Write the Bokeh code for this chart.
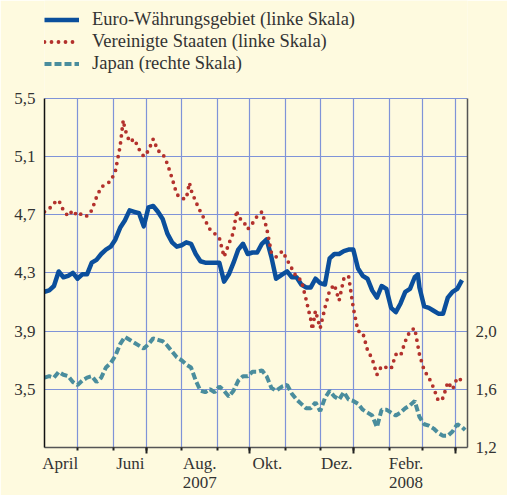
import numpy as np
from bokeh.plotting import figure
from bokeh.models import (Range1d, LinearAxis, FixedTicker, CustomJSTickFormatter,
                          Legend, LegendItem, Grid)
from bokeh.embed import file_html
from bokeh.resources import INLINE

# ---------------- data (trading-day number since 2 April 2007) ----------------
START = "2007-04-02"

tag_ez = [0, 3, 6, 9, 12, 15, 18, 21, 24, 27, 30, 33, 36, 39, 42, 45, 48, 51, 54, 57, 60, 63, 66,
          69, 72, 75, 78, 81, 84, 87, 90, 93, 96, 99, 102, 105, 108, 111, 114, 117, 120, 123, 126,
          129, 132, 135, 138, 141, 144, 147, 151, 154, 157, 160, 163, 166, 169, 172, 175, 178, 181,
          184, 187, 190, 193, 196, 199, 202, 205, 208, 211, 214, 217, 220, 223, 226, 229, 232, 235,
          237, 238, 241, 244, 247, 250, 253, 256, 259, 262, 265]
euro = [4.17, 4.18, 4.21, 4.31, 4.27, 4.28, 4.30, 4.26, 4.29, 4.29, 4.37, 4.39, 4.43, 4.46, 4.48,
        4.53, 4.61, 4.66, 4.73, 4.72, 4.71, 4.62, 4.75,
        4.76, 4.72, 4.67, 4.57, 4.51, 4.48, 4.49, 4.51, 4.50, 4.43, 4.38, 4.37, 4.37, 4.37, 4.37,
        4.24, 4.29, 4.37, 4.46, 4.50,
        4.43, 4.44, 4.44, 4.50, 4.53, 4.41, 4.26, 4.29, 4.31, 4.27, 4.27, 4.22, 4.20, 4.20, 4.26,
        4.23, 4.22, 4.40,
        4.43, 4.43, 4.45, 4.46, 4.46, 4.33, 4.28, 4.26, 4.18, 4.13, 4.21, 4.19, 4.06, 4.03, 4.09,
        4.17, 4.19, 4.27,
        4.29, 4.20, 4.07, 4.06, 4.04, 4.02, 4.02, 4.13, 4.17, 4.19, 4.25]

tag_us = [0, 3, 6, 9, 12, 15, 18, 21, 24, 27, 30, 33, 36, 39, 42, 45, 48, 50, 51, 54, 57, 60, 63,
          66, 69, 72, 75, 78, 81, 84, 87, 90, 92, 93, 96, 99, 102, 105, 108, 111, 114, 117, 120,
          122, 123, 126, 129, 132, 135, 138, 141, 144, 147, 151, 154, 157, 160, 163, 166, 169, 170,
          172, 175, 178, 181, 184, 187, 190, 193, 196, 199, 202, 205, 208, 211, 214, 217, 220, 223,
          226, 229, 232, 235, 238, 241, 244, 247, 250, 253, 256, 259, 262, 265, 267]
usa = [4.72, 4.74, 4.78, 4.80, 4.73, 4.69, 4.73, 4.69, 4.71, 4.69, 4.73, 4.82, 4.89, 4.91, 4.93,
       5.00, 5.17, 5.35, 5.29, 5.20, 5.22, 5.15, 5.10,
       5.14, 5.22, 5.14, 5.12, 5.05, 4.95, 4.84, 4.81, 4.81, 4.92, 4.87, 4.79, 4.72, 4.66, 4.60,
       4.57, 4.54, 4.41, 4.50, 4.58,
       4.73, 4.68, 4.66, 4.60, 4.64, 4.69, 4.72, 4.61, 4.44, 4.41, 4.45, 4.39, 4.33, 4.27, 4.25,
       4.12, 3.98, 3.91,
       4.04, 3.92, 4.06, 4.18, 4.22, 4.11, 4.26, 4.28, 4.06, 3.90, 3.89, 3.77, 3.71, 3.60, 3.66,
       3.65, 3.64, 3.74,
       3.73, 3.83, 3.90, 3.92, 3.74, 3.63, 3.58, 3.51, 3.42, 3.44, 3.55, 3.50, 3.58, 3.56, 3.58]

tag_jp = [0, 3, 6, 9, 12, 15, 18, 21, 24, 27, 30, 33, 36, 39, 42, 45, 48, 51, 54, 57, 60, 63, 66,
          69, 72, 75, 78, 81, 84, 87, 90, 93, 96, 99, 102, 105, 108, 111, 114, 117, 120, 123, 126,
          129, 132, 135, 138, 141, 144, 147, 151, 154, 157, 160, 163, 166, 169, 172, 175, 178, 181,
          184, 187, 190, 193, 196, 199, 202, 205, 208, 211, 214, 217, 220, 223, 226, 229, 232, 235,
          238, 241, 244, 247, 250, 253, 256, 259, 262, 265, 267]
japan = [1.68, 1.69, 1.68, 1.72, 1.70, 1.69, 1.65, 1.63, 1.66, 1.68, 1.69, 1.65, 1.68, 1.75, 1.78,
         1.83, 1.91, 1.96, 1.94, 1.92, 1.90, 1.88, 1.91,
         1.95, 1.94, 1.93, 1.90, 1.86, 1.82, 1.80, 1.77, 1.75, 1.66, 1.59, 1.58, 1.60, 1.58, 1.62,
         1.59, 1.55, 1.59, 1.66, 1.69,
         1.69, 1.72, 1.72, 1.73, 1.69, 1.61, 1.59, 1.62, 1.63, 1.57, 1.53, 1.50, 1.47, 1.47, 1.51,
         1.45, 1.54, 1.59,
         1.55, 1.53, 1.58, 1.53, 1.52, 1.50, 1.46, 1.44, 1.42, 1.34, 1.46, 1.46, 1.44, 1.42, 1.44,
         1.47, 1.49, 1.52,
         1.41, 1.36, 1.35, 1.33, 1.30, 1.28, 1.28, 1.31, 1.36, 1.34, 1.32]

month_firsts = ["2007-04-01", "2007-05-01", "2007-06-01", "2007-07-01", "2007-08-01",
                "2007-09-01", "2007-10-01", "2007-11-01", "2007-12-01", "2008-01-01",
                "2008-02-01", "2008-03-01", "2008-04-01", "2008-05-01"]
month_labels = ["April", "", "Juni", "", "Aug.\n2007", "", "Okt.", "", "Dez.", "",
                "Febr.\n2008", "", "", ""]
quarter_firsts = ["2007-07-01", "2007-10-01", "2008-01-01", "2008-04-01"]

left_ticks = [3.5, 3.9, 4.3, 4.7, 5.1, 5.5]
left_bounds = (3.1, 5.5)
right_ticks = [1.2, 1.6, 2.0]
right_bounds = (1.2, 3.6)

names = ["Euro-Währungsgebiet (linke Skala)", "Vereinigte Staaten (linke Skala)",
         "Japan (rechte Skala)"]

# ---------------- styling / layout ----------------
W, H = 507, 495
TOP_GAP = 98          # legend area above the plotting box
FRAME_H = 350         # height of the plotting box
BG = "#fefadf"
GRID = "#7f93d8"
C_EZ = "#0b4f9c"
C_US = "#b3312c"
C_JP = "#4a8d9d"
FONT = "Liberation Serif"
TXT = "#333333"

month_pos = [int(v) for v in np.busday_count(START, month_firsts)]
quarter_pos = [int(v) for v in np.busday_count(START, quarter_firsts)]
label_pos, label_txt = [], []
for i, lab in enumerate(month_labels):
    if lab:
        label_pos.append((month_pos[i] + month_pos[i + 1]) / 2)
        label_txt.append(lab)

# the frame reaches up to the top of the canvas so the legend can sit inside it
per_px = (left_bounds[1] - left_bounds[0]) / FRAME_H
extra = per_px * TOP_GAP

p = figure(width=W, height=H, output_backend="svg", toolbar_location=None,
           x_range=Range1d(0, 268.5),
           y_range=Range1d(left_bounds[0], left_bounds[1] + extra),
           x_axis_location=None, y_axis_location=None,
           background_fill_color=BG, border_fill_color=BG, outline_line_color=None,
           min_border_left=44, min_border_right=40, min_border_top=0, min_border_bottom=47)
p.extra_y_ranges = {"jp": Range1d(right_bounds[0], right_bounds[1] + extra)}

# drop any default grids, then add our own
p.center = [r for r in p.center if not isinstance(r, Grid)]
vgrid = Grid(dimension=0, ticker=FixedTicker(ticks=month_pos[1:]),
             grid_line_color=GRID, grid_line_width=1.2)
if "cross_bounds" in Grid.properties():
    vgrid.cross_bounds = left_bounds
p.add_layout(vgrid)
p.add_layout(Grid(dimension=1, ticker=FixedTicker(ticks=left_ticks),
                  grid_line_color=GRID, grid_line_width=1.2))

fmt = CustomJSTickFormatter(code="return tick.toFixed(1).replace('.', ',')")

left = LinearAxis(ticker=FixedTicker(ticks=left_ticks), formatter=fmt, bounds=left_bounds,
                  axis_line_color="#111111", axis_line_width=1.5,
                  major_tick_out=0, major_tick_in=0, minor_tick_out=0, minor_tick_in=0,
                  major_label_standoff=9, major_label_text_font=FONT,
                  major_label_text_font_size="17px", major_label_text_color=TXT)
p.add_layout(left, "left")

right = LinearAxis(y_range_name="jp", ticker=FixedTicker(ticks=right_ticks), formatter=fmt,
                   bounds=right_bounds,
                   axis_line_color="#555555", axis_line_width=1.5,
                   major_tick_out=0, major_tick_in=0, minor_tick_out=0, minor_tick_in=0,
                   major_label_standoff=8, major_label_text_font=FONT,
                   major_label_text_font_size="17px", major_label_text_color=TXT)
p.add_layout(right, "right")

# tick axis: long ticks at quarter starts, short ones at month starts
bottom = LinearAxis(ticker=FixedTicker(ticks=quarter_pos, minor_ticks=month_pos),
                    formatter=CustomJSTickFormatter(code="return ''"),
                    axis_line_color="#555555", axis_line_width=1.5,
                    major_tick_out=6, major_tick_in=0, minor_tick_out=3, minor_tick_in=0,
                    major_tick_line_color="#222222", minor_tick_line_color="#222222",
                    major_tick_line_width=2, minor_tick_line_width=2,
                    major_label_standoff=0, major_label_text_font_size="1px")
p.add_layout(bottom, "below")

# label axis: month names centred in their month
lab_fmt = CustomJSTickFormatter(args=dict(pos=label_pos, txt=label_txt),
                                code="const i = pos.indexOf(tick); return i >= 0 ? txt[i] : ''")
labels = LinearAxis(ticker=FixedTicker(ticks=label_pos, minor_ticks=[]), formatter=lab_fmt,
                    axis_line_color=None, major_tick_out=0, major_tick_in=0,
                    minor_tick_out=0, minor_tick_in=0, major_label_standoff=0,
                    major_label_text_font=FONT, major_label_text_font_size="17px",
                    major_label_text_color=TXT, major_label_text_line_height=1.05)
p.add_layout(labels, "below")

# series
r_ez = p.line(tag_ez, euro, line_color=C_EZ, line_width=4.5, line_join="round")
r_us = p.line(tag_us, usa, line_color=C_US, line_width=3.8, line_dash="0 7",
              line_cap="round", line_join="round")
r_jp = p.line(tag_jp, japan, y_range_name="jp", line_color=C_JP, line_width=4,
              line_dash="7 3")

legend = Legend(items=[LegendItem(label=names[0], renderers=[r_ez]),
                       LegendItem(label=names[1], renderers=[r_us]),
                       LegendItem(label=names[2], renderers=[r_jp])],
                location=(0, H - 47 - 75), orientation="vertical",
                glyph_width=35, glyph_height=21, label_height=21, label_standoff=13,
                spacing=1, padding=0, margin=0, border_line_color=None,
                background_fill_alpha=0, label_text_font=FONT,
                label_text_font_size="18.5px", label_text_color=TXT)
p.add_layout(legend)

open("out.html", "w").write(file_html(p, INLINE))
